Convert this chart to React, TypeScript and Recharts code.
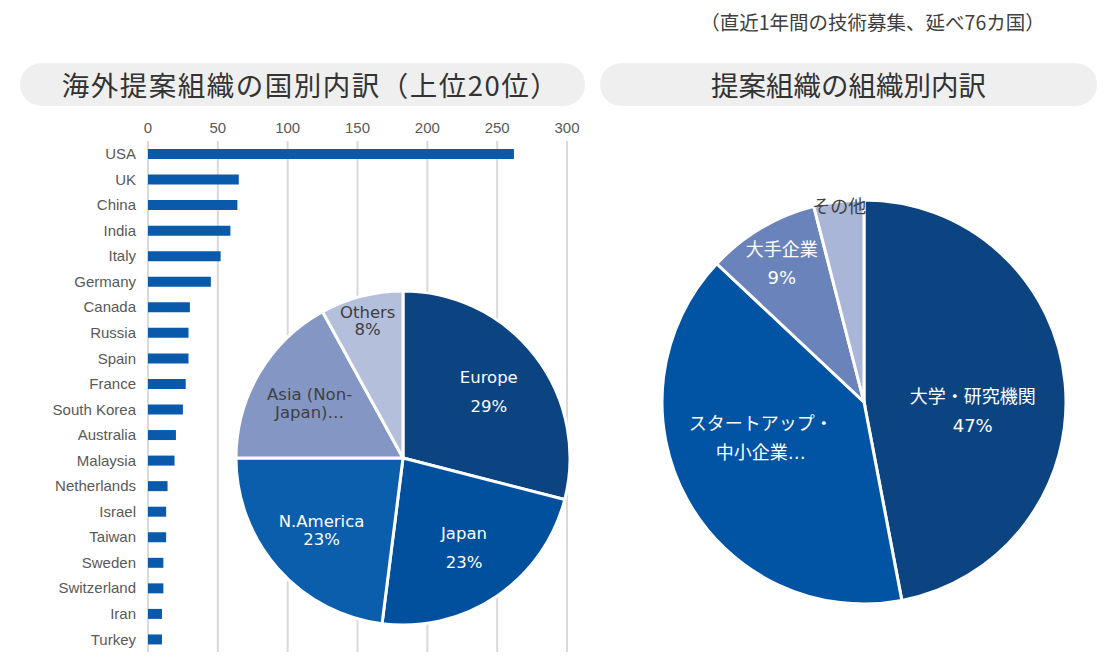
import { Bar, BarChart, CartesianGrid, Cell, Pie, PieChart, XAxis, YAxis } from 'recharts';

const countries = [
  'USA', 'UK', 'China', 'India', 'Italy', 'Germany', 'Canada', 'Russia', 'Spain', 'France',
  'South Korea', 'Australia', 'Malaysia', 'Netherlands', 'Israel', 'Taiwan', 'Sweden',
  'Switzerland', 'Iran', 'Turkey',
];
const proposals = [262, 65, 64, 59, 52, 45, 30, 29, 29, 27, 25, 20, 19, 14, 13, 13, 11, 11, 10, 10];
const xTicks = [0, 50, 100, 150, 200, 250, 300];

const regions = ['Europe', 'Japan', 'N.America', 'Asia (Non-\nJapan)…', 'Others'];
const regionShares = [29, 23, 23, 17, 8];

const orgTypes = ['大学・研究機関', 'スタートアップ・\n中小企業…', '大手企業', 'その他'];
const orgShares = [47, 40, 9, 4];

const REGION_COLORS = ['#0c4482', '#00509d', '#0a5eac', '#8396c4', '#b4bfdc'];
const ORG_COLORS = ['#0c4482', '#0054a3', '#6a83bb', '#a9b6d7'];
const LIGHT = new Set(['#8396c4', '#b4bfdc', '#a9b6d7']);
const TIGHT = new Set(['N.America', 'Asia (Non-\nJapan)…', 'Others']);

const RADIAN = Math.PI / 180;

const barData = countries.map((country, i) => ({ country, value: proposals[i] }));
const regionData = regions.map((name, i) => ({ name, value: regionShares[i] }));
const orgData = orgTypes.map((name, i) => ({ name, value: orgShares[i] }));

function makeLabel(
  colors: string[],
  fontSize: number,
  lineGap: number,
  radiusFor: (p: number) => number,
  angleShift = 0,
) {
  return (props: any) => {
    const { cx, cy, midAngle, outerRadius, percent, name, index } = props;
    const r = outerRadius * radiusFor(percent);
    const a = (midAngle + (percent > 0.3 ? angleShift : 0)) * RADIAN;
    const x = cx + r * Math.cos(-a);
    const y = cy + r * Math.sin(-a);
    const lines: string[] = String(name).split('\n');
    if (!String(name).endsWith('…') && name !== 'その他') lines.push(`${Math.round(percent * 100)}%`);
    const lh = TIGHT.has(name) ? fontSize * 1.08 : fontSize * lineGap;
    const fill = LIGHT.has(colors[index]) ? '#404040' : '#ffffff';
    const y0 = y - ((lines.length - 1) * lh) / 2;
    return (
      <text
        x={x}
        y={y0}
        fill={fill}
        fontSize={fontSize}
        textAnchor="middle"
        dominantBaseline="central"
        fontFamily="'DejaVu Sans', 'Noto Sans CJK JP', sans-serif"
      >
        {lines.map((t, i) => (
          <tspan key={i} x={x} dy={i === 0 ? 0 : lh}>
            {t}
          </tspan>
        ))}
      </text>
    );
  };
}

const pillStyle: React.CSSProperties = {
  position: 'absolute',
  top: 63,
  height: 43,
  borderRadius: 22,
  background: '#efefef',
  color: '#333333',
  fontSize: 27.5,
  lineHeight: '43px',
  textAlign: 'center',
  fontFamily: "'Noto Sans CJK JP', sans-serif",
};

const tickFont = { fill: '#595959', fontSize: 15, fontFamily: "'Liberation Sans', Arial, sans-serif" };

export default function App() {
  return (
    <div style={{ position: 'absolute', left: 0, top: 0, width: 1119, height: 670, background: '#fff', overflow: 'hidden' }}>
      <div
        style={{
          position: 'absolute',
          left: 690,
          top: 8,
          width: 365,
          textAlign: 'center',
          fontSize: 19.5,
          color: '#404040',
          fontFamily: "'Noto Sans CJK JP', sans-serif",
          lineHeight: '28px',
        }}
      >
        （直近1年間の技術募集、延べ76カ国）
      </div>
      <div style={{ ...pillStyle, left: 20, width: 565, letterSpacing: 1.5, paddingLeft: 16, boxSizing: 'border-box' }}>
        海外提案組織の国別内訳（上位20位）
      </div>
      <div style={{ ...pillStyle, left: 600, width: 497 }}>提案組織の組織別内訳</div>

      <div style={{ position: 'absolute', left: 0, top: 0 }}>
        <BarChart
          width={600}
          height={670}
          layout="vertical"
          data={barData}
          margin={{ top: 111, right: 33, bottom: 18, left: 0 }}
          barSize={10}
        >
          <CartesianGrid horizontal={false} stroke="#d9d9d9" strokeWidth={2} />
          <XAxis
            type="number"
            orientation="top"
            domain={[0, 300]}
            ticks={xTicks}
            axisLine={false}
            tickLine={false}
            height={30}
            tick={tickFont}
          />
          <YAxis
            type="category"
            dataKey="country"
            width={148}
            interval={0}
            axisLine={false}
            tickLine={false}
            tickMargin={6}
            tick={tickFont}
          />
          <Bar dataKey="value" fill="#0a5aab" isAnimationActive={false} />
        </BarChart>
      </div>

      <div style={{ position: 'absolute', left: 0, top: 0 }}>
        <PieChart width={1119} height={670} margin={{ top: 0, right: 0, bottom: 0, left: 0 }}>
          <Pie
            data={regionData}
            dataKey="value"
            nameKey="name"
            cx={403}
            cy={458}
            outerRadius={167}
            startAngle={90}
            endAngle={-270}
            stroke="#ffffff"
            strokeWidth={3}
            labelLine={false}
            label={makeLabel(REGION_COLORS, 16.5, 1.75, (p) => (p < 0.1 ? 0.85 : 0.65))}
            isAnimationActive={false}
          >
            {regionData.map((d, i) => (
              <Cell key={d.name} fill={REGION_COLORS[i]} />
            ))}
          </Pie>
          <Pie
            data={orgData}
            dataKey="value"
            nameKey="name"
            cx={864}
            cy={402}
            outerRadius={202}
            startAngle={90}
            endAngle={-270}
            stroke="#ffffff"
            strokeWidth={3}
            labelLine={false}
            label={makeLabel(ORG_COLORS, 18, 1.6, (p) => (p > 0.3 ? 0.54 : p > 0.05 ? 0.8 : 0.98), -10)}
            isAnimationActive={false}
          >
            {orgData.map((d, i) => (
              <Cell key={d.name} fill={ORG_COLORS[i]} />
            ))}
          </Pie>
        </PieChart>
      </div>
    </div>
  );
}
